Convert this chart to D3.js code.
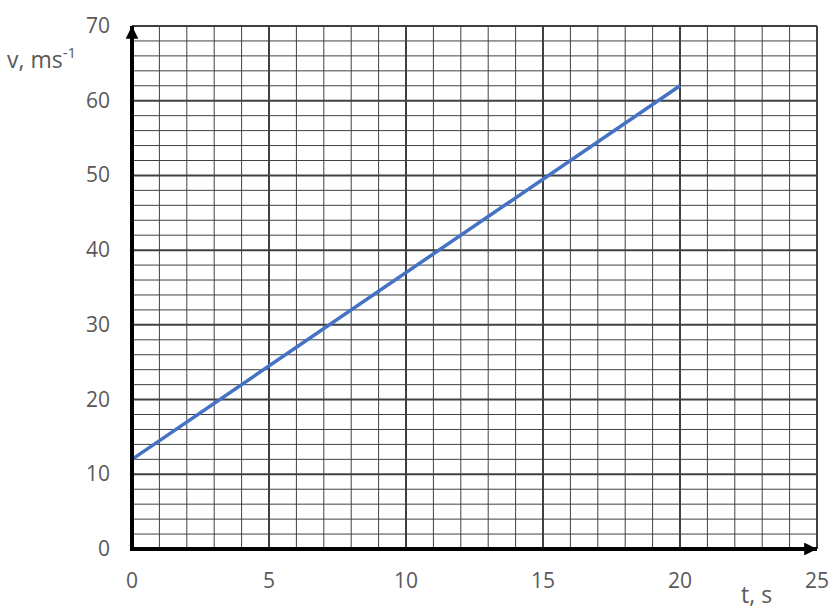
<!DOCTYPE html>
<html>
<head>
<meta charset="utf-8">
<script src="https://cdn.jsdelivr.net/npm/d3@7"></script>
<style>
  body { margin: 0; background: #fff; }
  svg text { font-family: "Open Sans", "Liberation Sans", sans-serif; fill: #595959; }
</style>
</head>
<body>
<div id="chart"></div>
<script>
// data
var timeVals = [0, 20];
var speedVals = [12, 62];
var xTicks = [0, 5, 10, 15, 20, 25];
var yTicks = [0, 10, 20, 30, 40, 50, 60, 70];

var width = 837, height = 616;
var pLeft = 132, pRight = 817, pTop = 26, pBottom = 549;

var svg = d3.select("#chart").append("svg")
  .attr("width", width).attr("height", height);

var x = d3.scaleLinear().domain([0, 25]).range([pLeft, pRight]);
var y = d3.scaleLinear().domain([0, 70]).range([pBottom, pTop]);

var grid = svg.append("g");
// grid, every 5th / 10 is a major line
grid.selectAll(".vg").data(d3.range(0, 26, 1)).enter().append("line")
  .attr("x1", function(d) { return x(d); }).attr("x2", function(d) { return x(d); })
  .attr("y1", pTop).attr("y2", pBottom)
  .attr("stroke", "#404040").attr("stroke-width", function(d) { return d % 5 == 0 ? 2 : 1; });
grid.selectAll(".hg").data(d3.range(0, 71, 2)).enter().append("line")
  .attr("y1", function(d) { return y(d); }).attr("y2", function(d) { return y(d); })
  .attr("x1", pLeft).attr("x2", pRight)
  .attr("stroke", "#404040").attr("stroke-width", function(d) { return d % 10 == 0 ? 2 : 1; });

// the line
svg.append("path")
  .datum(d3.zip(timeVals, speedVals))
  .attr("fill", "none").attr("stroke", "#4472C4").attr("stroke-width", 3.5)
  .attr("d", d3.line().x(function(d) { return x(d[0]); }).y(function(d) { return y(d[1]); }));

// axes with arrows
svg.append("defs").append("marker")
  .attr("id", "arr").attr("viewBox", "0 0 10 10").attr("refX", 10).attr("refY", 5)
  .attr("markerWidth", 3.2).attr("markerHeight", 3.2).attr("orient", "auto")
  .append("path").attr("d", "M0,0 L10,5 L0,10 z").attr("fill", "#000");

svg.append("line").attr("x1", x(0)).attr("x2", x(0)).attr("y1", pBottom + 2).attr("y2", pTop)
  .attr("stroke", "#000").attr("stroke-width", 4).attr("marker-end", "url(#arr)");
svg.append("line").attr("x1", x(0) - 2).attr("x2", pRight).attr("y1", pBottom).attr("y2", pBottom)
  .attr("stroke", "#000").attr("stroke-width", 4).attr("marker-end", "url(#arr)");

// tick labels
svg.selectAll(".xt").data(xTicks).enter().append("text")
  .attr("x", function(d) { return x(d); }).attr("y", 588)
  .attr("text-anchor", "middle").attr("font-size", 21).text(function(d) { return d; });
svg.selectAll(".yt").data(yTicks).enter().append("text")
  .attr("x", 110).attr("y", function(d) { return y(d) + 7; })
  .attr("text-anchor", "end").attr("font-size", 21).text(function(d) { return d; });

// axis titles
svg.append("text").attr("x", 741).attr("y", 603).attr("font-size", 23).text("t, s");
var vt = svg.append("text").attr("x", 7).attr("y", 68).attr("font-size", 23);
vt.append("tspan").text("v, ms");
vt.append("tspan").attr("dy", -10).attr("font-size", 15).text("-1");
</script>
</body>
</html>
